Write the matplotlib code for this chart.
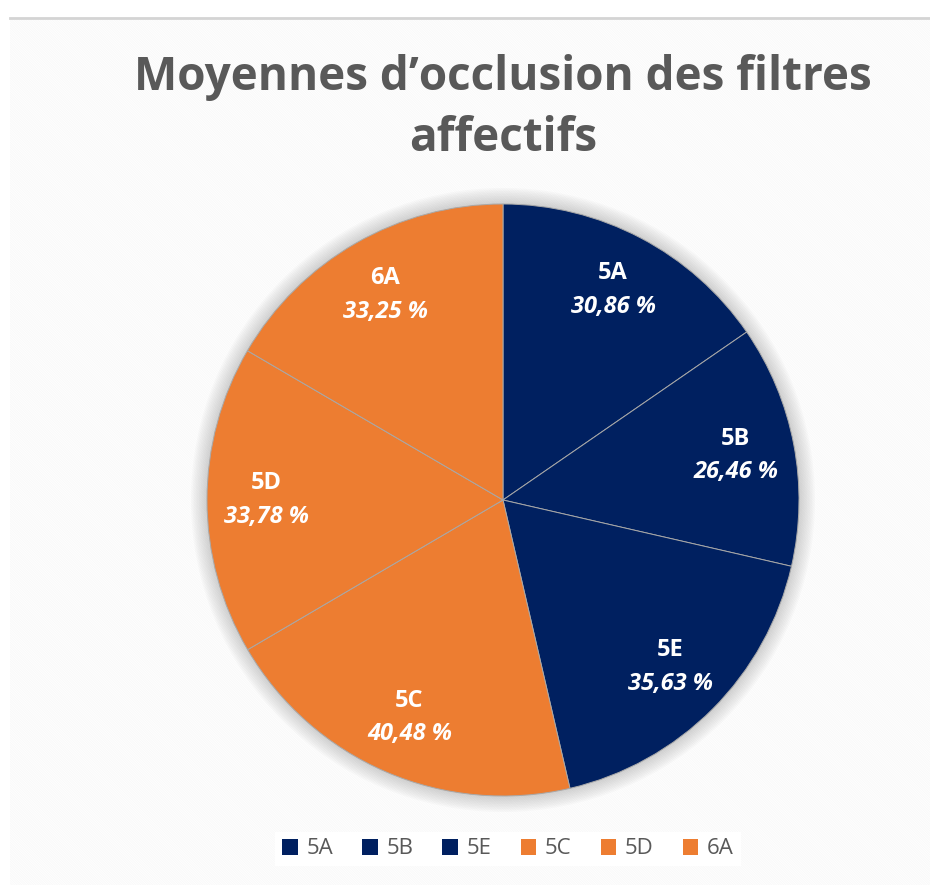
import matplotlib
matplotlib.use("Agg")
import matplotlib.pyplot as plt
import numpy as np
from matplotlib.patches import Rectangle, Circle

# ── Data ────────────────────────────────────────────────────────────────
groups = ["5A", "5B", "5E", "5C", "5D", "6A"]
occlusion = [30.86, 26.46, 35.63, 40.48, 33.78, 33.25]
group_colors = ["#002060", "#002060", "#002060", "#ED7D31", "#ED7D31", "#ED7D31"]

title = "Moyennes d\u2019occlusion des filtres\naffectifs"

W, H = 930, 885
fig = plt.figure(figsize=(W / 100, H / 100), dpi=100)
fig.patch.set_facecolor("white")

# chart area background with faint diagonal stripes
bg = fig.add_axes([0, 0, 1, 1])
bg.set_xlim(0, W); bg.set_ylim(H, 0); bg.axis("off")
plt.rcParams["hatch.linewidth"] = 1.1
bg.add_patch(Rectangle((10, 18), W - 10, H - 18, facecolor="#ebebeb",
                       edgecolor="#fdfdfd", hatch="\\" * 14, linewidth=0))
bg.plot([10, W], [18, 18], color="#d4d4d4", linewidth=2)
# soft shadow round the pie
for i in range(10):
    bg.add_patch(Circle((503, 500), 296 + 16 - i * 1.6, facecolor="#8a8a8a",
                        alpha=0.04, edgecolor="none"))

fig.text(503 / W, 1 - 108 / H, title, ha="center", va="center",
         fontsize=33, fontweight="bold", color="#595959", family="Open Sans",
         linespacing=1.4)

# ── Pie ─────────────────────────────────────────────────────────────────
R = 296
ax = fig.add_axes([(503 - R) / W, (H - 500 - R) / H, 2 * R / W, 2 * R / H])
wedges, _ = ax.pie(occlusion, colors=group_colors, startangle=90,
                   counterclock=False, radius=1,
                   wedgeprops=dict(edgecolor="#a8a8a8", linewidth=0.7))
ax.set_xlim(-1, 1); ax.set_ylim(-1, 1)
ax.set_aspect("equal")

for w, g, v in zip(wedges, groups, occlusion):
    mid = np.deg2rad((w.theta1 + w.theta2) / 2)
    x, y = 0.80 * np.cos(mid), 0.80 * np.sin(mid)
    ax.text(x, y + 0.057, g, ha="center", va="center", color="white",
            fontsize=17, fontweight="bold", family="Open Sans")
    ax.text(x, y - 0.057, f"{v:.2f} %".replace(".", ","), ha="center",
            va="center", color="white", fontsize=17, fontweight="bold",
            style="italic", family="Open Sans")

leg = fig.legend(wedges, groups, loc="center", bbox_to_anchor=(508 / W, 1 - 849 / H),
                 ncol=6, frameon=True, fancybox=False, edgecolor="none",
                 facecolor="white", framealpha=1, handlelength=0.7,
                 handleheight=0.7, handletextpad=0.4, columnspacing=1.3,
                 borderpad=0.3, prop=dict(family="Open Sans", size=16))
for t in leg.get_texts():
    t.set_color("#595959")
for h in leg.legend_handles:
    h.set_edgecolor("none")

fig.savefig("out.png", dpi=100)
